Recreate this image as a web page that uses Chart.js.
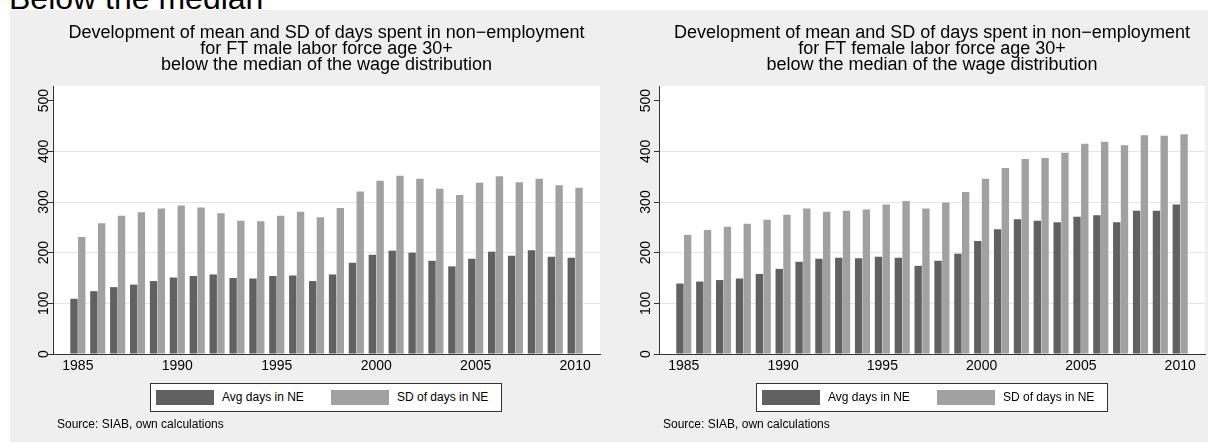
<!DOCTYPE html>
<html>
<head>
<meta charset="utf-8">
<script src="https://cdn.jsdelivr.net/npm/chart.js@4.4.1/dist/chart.umd.min.js"></script>
<style>
  body { margin: 0; width: 1208px; height: 443px; background: #fff; position: relative; overflow: hidden;
         font-family: "Liberation Sans", Arial, sans-serif; color: #000; }
  #heading { position: absolute; left: 9px; top: -18px; font-size: 32px; line-height: 32px; white-space: nowrap; }
  #bg { position: absolute; left: 10px; top: 10px; width: 1198px; height: 432px; background: #efefef; }
  .wrap { position: absolute; top: 10px; height: 432px; }
  .wrap canvas { display: block; }
  .legend { position: absolute; top: 383px; width: 350px; height: 27px; border: 1px solid #333; background: #fff; font-size: 12px; }
  .legend .sw { position: absolute; top: 6px; width: 58px; height: 15px; }
  .legend .lt { position: absolute; top: 6px; line-height: 15px; white-space: nowrap; }
  .source { position: absolute; top: 417px; font-size: 12px; line-height: 14px; white-space: nowrap; }
</style>
</head>
<body>
<div id="heading">Below the median</div>
<div id="bg"></div>

<div class="wrap" style="left:10px;width:595px"><canvas id="male" width="595" height="432"></canvas></div>
<div class="wrap" style="left:605px;width:603px"><canvas id="female" width="603" height="432"></canvas></div>

<div class="legend" style="left:150px">
  <div class="sw" style="left:5px;background:#616161"></div><div class="lt" style="left:71px">Avg days in NE</div>
  <div class="sw" style="left:180px;background:#a1a1a1"></div><div class="lt" style="left:246px">SD of days in NE</div>
</div>
<div class="legend" style="left:756px">
  <div class="sw" style="left:5px;background:#616161"></div><div class="lt" style="left:71px">Avg days in NE</div>
  <div class="sw" style="left:180px;background:#a1a1a1"></div><div class="lt" style="left:246px">SD of days in NE</div>
</div>
<div class="source" style="left:57px">Source: SIAB, own calculations</div>
<div class="source" style="left:663px">Source: SIAB, own calculations</div>

<script>
const years = [1985, 1986, 1987, 1988, 1989, 1990, 1991, 1992, 1993, 1994, 1995, 1996, 1997,
               1998, 1999, 2000, 2001, 2002, 2003, 2004, 2005, 2006, 2007, 2008, 2009, 2010];

// male, below median
const maleAvg = [109, 124, 132, 137, 144, 151, 154, 157, 150, 149, 154, 155, 144,
                 157, 180, 196, 204, 200, 184, 173, 188, 202, 194, 205, 192, 190];
const maleSD  = [231, 258, 273, 280, 287, 293, 289, 278, 263, 262, 273, 281, 270,
                 288, 321, 342, 352, 346, 326, 314, 338, 351, 339, 346, 333, 328];

// female, below median
const femAvg = [139, 143, 146, 149, 158, 168, 182, 188, 190, 189, 192, 190, 174,
                184, 198, 223, 246, 266, 263, 260, 271, 274, 260, 283, 283, 295];
const femSD  = [235, 245, 251, 257, 265, 275, 287, 281, 283, 285, 295, 302, 287,
                299, 320, 346, 367, 385, 387, 397, 415, 419, 412, 432, 431, 434];

const xTicks = [1985, 1990, 1995, 2000, 2005, 2010];
const yTicks = [0, 100, 200, 300, 400, 500];

const seriesNames = ["Avg days in NE", "SD of days in NE"];
const maleTitle = ["Development of mean and SD of days spent in non\u2212employment",
                   "for FT male labor force age 30+",
                   "below the median of the wage distribution"];
const femTitle = ["Development of mean and SD of days spent in non\u2212employment",
                  "for FT female labor force age 30+",
                  "below the median of the wage distribution"];

const FONT = '"Liberation Sans", Arial, sans-serif';

// white plot region on the grey panel
const plotBg = {
    id: "plotBg",
    beforeDraw(chart) {
        const a = chart.chartArea, ctx = chart.ctx;
        ctx.save();
        ctx.fillStyle = "#fff";
        ctx.fillRect(a.left, a.top, a.right - a.left, a.bottom - a.top);
        ctx.restore();
    }
};

// vertical y tick labels, like stata
const yLabels = {
    id: "yLabels",
    afterDraw(chart, args, opts) {
        const s = chart.scales.y, ctx = chart.ctx;
        ctx.save();
        ctx.font = "14px " + FONT;
        ctx.fillStyle = "#000";
        ctx.textAlign = "center";
        ctx.textBaseline = "middle";
        s.ticks.forEach(t => {
            ctx.save();
            ctx.translate(chart.chartArea.left - opts.gap, s.getPixelForValue(t.value));
            ctx.rotate(-Math.PI / 2);
            ctx.fillText(String(t.value), 0, 0);
            ctx.restore();
        });
        ctx.restore();
    }
};

function makeChart(id, title, avg, sd, axisLeft, padRight, gap) {
    new Chart(document.getElementById(id), {
        type: "bar",
        data: {
            datasets: [
                { label: seriesNames[0], data: years.map((y, i) => ({ x: y, y: avg[i] })),
                  backgroundColor: "#616161", borderWidth: 0 },
                { label: seriesNames[1], data: years.map((y, i) => ({ x: y, y: sd[i] })),
                  backgroundColor: "#a1a1a1", borderWidth: 0 }
            ]
        },
        options: {
            responsive: false,
            animation: false,
            layout: { padding: { left: 0, right: padRight, top: 0, bottom: 0 } },
            datasets: { bar: { categoryPercentage: 0.78, barPercentage: 0.95 } },
            plugins: {
                legend: { display: false },
                tooltip: { enabled: false },
                title: {
                    display: true,
                    text: title,
                    fullSize: false,
                    color: "#000",
                    font: { family: FONT, size: 18, weight: "normal", lineHeight: "16px" },
                    padding: { top: 15, bottom: 13 }
                },
                yLabels: { gap: gap }
            },
            scales: {
                x: {
                    type: "linear",
                    offset: false,
                    min: 1983.75,
                    max: 2011.25,
                    afterBuildTicks: s => { s.ticks = xTicks.map(v => ({ value: v })); },
                    afterFit: s => { s.height = 88; },
                    grid: { display: false, drawTicks: false },
                    border: { display: true, color: "#333", width: 1 },
                    ticks: { autoSkip: false, maxRotation: 0, padding: 4, color: "#000",
                             font: { family: FONT, size: 14 }, callback: v => String(v) }
                },
                y: {
                    min: 0,
                    max: 529,
                    afterBuildTicks: s => { s.ticks = yTicks.map(v => ({ value: v })); },
                    afterFit: s => { s.width = axisLeft; },
                    grid: {
                        color: c => (c.tick && (c.tick.value === 0 || c.tick.value === 500)) ? "rgba(0,0,0,0)" : "#e6e6e6",
                        tickColor: "#333",
                        tickLength: 5,
                        lineWidth: 1
                    },
                    border: { display: true, color: "#333", width: 1 },
                    ticks: { display: false }
                }
            }
        },
        plugins: [plotBg, yLabels]
    });
}

makeChart("male", maleTitle, maleAvg, maleSD, 43, 5, 9);
makeChart("female", femTitle, femAvg, femSD, 54, 3, 13);
</script>
</body>
</html>
